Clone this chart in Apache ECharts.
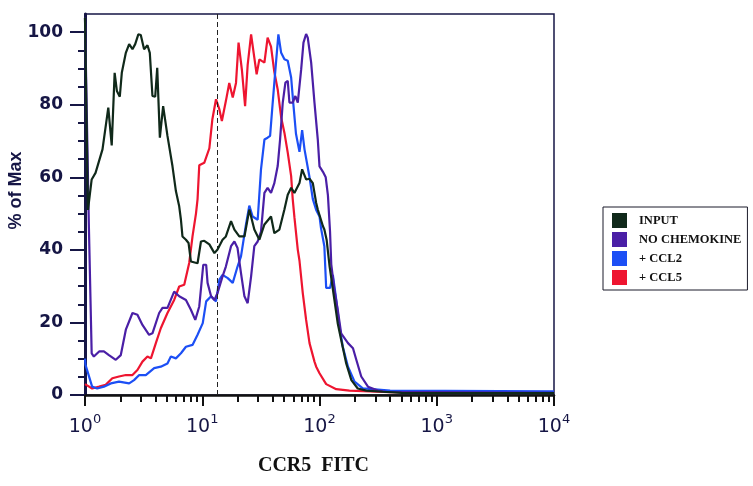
<!DOCTYPE html>
<html><head><meta charset="utf-8">
<script src="https://cdn.jsdelivr.net/npm/echarts@6/dist/echarts.min.js"></script>
<style>html,body{margin:0;padding:0;background:#fff}#c{width:753px;height:486px}</style>
</head><body><div id="c"></div>
<script>
// ---- data ----
const seriesNames = ['INPUT', 'NO CHEMOKINE', '+ CCL2', '+ CCL5'];

const inputX = [1, 1.02, 1.06, 1.08, 1.14, 1.23, 1.41, 1.58, 1.69, 1.79, 1.87, 1.98, 2.06, 2.23, 2.38, 2.54, 2.68, 2.85, 2.99, 3.19, 3.41, 3.57, 3.76, 3.97, 4.13, 4.35, 4.64, 5.05, 5.57, 5.96, 6.36, 6.58, 6.78, 7.26, 7.64, 8.0, 9.12, 9.75, 10.4, 11.5, 12.7, 13.5, 14.9, 15.9, 17.6, 18.8, 20.7, 22.9, 25.2, 27.8, 30.7, 33.9, 38.6, 41.2, 45.5, 50.2, 53.6, 57.3, 61.1, 67.5, 71.1, 76.9, 82.2, 87.7, 93.7, 96.7, 107, 110, 115, 122, 134, 143, 153, 169, 187, 212, 251, 345, 500, 10000];
const inputY = [104, 104, 51, 50.6, 59.4, 61.2, 67.7, 79.2, 68.8, 88.8, 83.8, 82.2, 88.8, 94.3, 96.7, 95.3, 96.7, 99.4, 99.2, 95.3, 96.4, 94.3, 82.4, 82.2, 90.2, 70.9, 79.6, 71.4, 63.1, 56.2, 52, 48.3, 43.7, 42.8, 41.9, 36.8, 36.3, 42.3, 42.5, 41.5, 39.1, 40.1, 42.8, 43.7, 47.9, 45.6, 43.7, 43.7, 51.1, 45.6, 42.8, 47, 49.2, 44.6, 45.6, 51.1, 55.2, 57.1, 55.7, 58.4, 62.2, 59.4, 59.6, 58.4, 52.9, 51.1, 46.5, 45.6, 42.8, 35.4, 26.2, 19.8, 15.2, 8.7, 4.1, 1.8, 1.2, 0.9, 0.6, 0.5];

const noChemX = [1, 1.08, 1.14, 1.19, 1.32, 1.45, 1.6, 1.83, 2.02, 2.23, 2.54, 2.8, 3.09, 3.52, 3.76, 4.29, 4.58, 5.05, 5.76, 6.36, 7.26, 8.0, 8.72, 9.43, 10.2, 10.8, 11.1, 11.9, 12.7, 13.5, 14.9, 15.9, 17.6, 18.8, 20.0, 21.4, 22.9, 24.4, 26.1, 27.8, 29.7, 31.7, 33.9, 36.1, 38.6, 41.2, 44.0, 46.1, 48.6, 51.2, 53.6, 55.4, 59.1, 62.3, 65.3, 69.8, 73.0, 76.9, 79.4, 84.9, 90.6, 96.7, 100, 107, 113, 118, 123, 126, 134, 143, 153, 175, 193, 206, 227, 259, 315, 372, 10000];
const noChemY = [104, 46, 11.5, 10.6, 12, 12, 11, 9.7, 11, 18, 22.6, 22.1, 19.3, 16.6, 17, 22.6, 24, 24, 28.5, 27.2, 26.2, 23.5, 20.7, 24.4, 35.9, 35.9, 30.9, 27.2, 26.2, 28.1, 32.7, 35.4, 41, 42.3, 40.5, 33.6, 27.2, 25.3, 32.7, 41, 42.3, 45, 55.7, 57.1, 55.7, 58.4, 63.1, 70.4, 80.6, 86.1, 86.6, 80.6, 80.6, 82.4, 80.6, 89.8, 97.1, 99.5, 98.5, 91.6, 80.6, 70.4, 63, 61.5, 60, 55, 45, 36, 29, 23.5, 17, 14.3, 12.9, 9.7, 5.1, 2.3, 1.2, 0.9, 0.6];

const ccl2X = [1, 1.01, 1.15, 1.27, 1.45, 1.66, 1.95, 2.38, 2.62, 2.9, 3.3, 3.89, 4.43, 5.05, 5.4, 5.96, 6.58, 7.26, 8.26, 9.12, 10.1, 10.8, 11.9, 13.1, 14.0, 14.9, 16.5, 18.2, 20.0, 21.4, 23.6, 25.2, 26.9, 29.7, 31.7, 33.9, 36.1, 37.9, 39.9, 42.1, 44.6, 47.1, 50.2, 53.6, 57.3, 59.9, 63, 67.5, 71.1, 74.5, 82.2, 87.7, 93.7, 100, 103, 110, 114, 123, 130, 139, 148, 158, 175, 199, 234, 400, 10000];
const ccl2Y = [10, 8.3, 2.3, 1.8, 2.3, 3.2, 3.7, 3.2, 4.1, 5.5, 5.5, 7.4, 7.8, 8.7, 10.6, 10.1, 11.5, 13.3, 13.8, 16.6, 19.8, 25.8, 27.2, 25.8, 31.8, 33.1, 32.2, 30.9, 35.4, 38.2, 47, 52.2, 49.2, 48.3, 62.2, 70.4, 70.9, 71.4, 80.6, 89.8, 99.4, 94.3, 92.5, 92.1, 87.5, 80, 72, 67, 73, 67.7, 60, 54, 51, 49.2, 46, 41, 29.5, 29.5, 33.1, 26.2, 18.9, 13.3, 7.8, 3.7, 1.8, 1.2, 1];

const ccl5X = [1, 1.15, 1.32, 1.5, 1.71, 1.95, 2.23, 2.54, 2.8, 3.09, 3.41, 3.65, 4.02, 4.43, 5.05, 5.76, 6.36, 7.02, 7.74, 8.26, 8.84, 9.12, 9.43, 10.4, 11.5, 12.2, 13.1, 14.0, 14.7, 15.9, 17.0, 18.2, 19.4, 20.4, 21.8, 23.2, 24.4, 26.1, 27.8, 29.1, 30.7, 32.4, 33.9, 36.1, 38.6, 41.2, 44.0, 47.1, 50.2, 53.6, 57.3, 59.1, 61.1, 65.3, 67.5, 72.0, 76.9, 82.2, 90.6, 93.7, 100, 114, 139, 180, 400, 10000];
const ccl5Y = [3, 1.8, 2.3, 2.8, 4.6, 5.1, 5.5, 5.5, 6.9, 9.2, 10.6, 10.1, 14.3, 18.4, 22.6, 26.2, 29.9, 30.4, 36.4, 43.7, 50, 54, 63.3, 64, 68, 76, 81.5, 78.7, 75.5, 81, 86, 82, 86, 97.1, 89.5, 79.6, 91, 99.4, 93, 88.4, 92.5, 92, 91.6, 98.5, 96, 89, 84.2, 76.5, 72.3, 66.8, 60.3, 54, 49, 40, 37, 28.1, 20.7, 14.3, 9.2, 7.8, 6, 3, 1.6, 1.2, 0.8, 0.6];

const gateX = 13.4;                       // dashed gate line position
const xMajorTicks = [1, 10, 100, 1000, 10000];
const xMinorTicks = [2,3,4,5,6,7,8,9, 20,30,40,50,60,70,80,90, 200,300,400,500,600,700,800,900, 2000,3000,4000,5000,6000,7000,8000,9000];
const yMajorTicks = [0, 20, 40, 60, 80, 100];
const yMinorTicks = [5,10,15,25,30,35,45,50,55,65,70,75,85,90,95];
const colors = ['#10291a', '#4a1fa6', '#1c4ff5', '#ee1530'];

// ---- chart ----
const zip = (xs, ys) => xs.map((x, i) => [x, ys[i]]);
const chart = echarts.init(document.getElementById('c'), null, {renderer: 'canvas'});
const navy = '#161645';

const lineSeries = (name, xs, ys, color, z) => ({
  name, type: 'line', data: zip(xs, ys), showSymbol: false, symbol: 'none',
  smooth: false, z, xAxisIndex: 0, yAxisIndex: 0,
  lineStyle: {color, width: 2.2}, itemStyle: {color}
});

const s = [
  lineSeries(seriesNames[3], ccl5X, ccl5Y, colors[3], 2),
  lineSeries(seriesNames[2], ccl2X, ccl2Y, colors[2], 3),
  lineSeries(seriesNames[1], noChemX, noChemY, colors[1], 4),
  lineSeries(seriesNames[0], inputX, inputY, colors[0], 5)
];
s[0].markLine = {
  silent: true, symbol: 'none', label: {show: false},
  lineStyle: {type: [5, 3], color: '#222', width: 1},
  data: [{xAxis: gateX}]
};

chart.setOption({
  backgroundColor: '#ffffff',
  animation: false,
  grid: {left: 85, right: 199, top: 14, bottom: 91, show: true, outerBoundsMode: 'none',
         containLabel: false,
         borderColor: navy, borderWidth: 1.5, backgroundColor: '#fff'},
  legend: {
    orient: 'vertical', left: 603, top: 207,
    data: seriesNames,
    icon: 'rect', itemWidth: 15, itemHeight: 15, itemGap: 4,
    padding: [6, 6, 5, 9],
    borderColor: '#1a1a2a', borderWidth: 1, backgroundColor: '#fff',
    textStyle: {fontFamily: 'Liberation Serif', fontWeight: 'bold', fontSize: 12.5,
                color: '#111', padding: [0, 0, 0, 7]},
    selectedMode: false
  },
  xAxis: [{
    type: 'log', logBase: 10, min: 1, max: 10000, position: 'bottom',
    name: 'CCR5  FITC', nameLocation: 'middle', nameGap: 61, nameMoveOverlap: false,
    nameTextStyle: {fontFamily: 'Liberation Serif', fontWeight: 'bold', fontSize: 20, color: '#111',
                    padding: [0, 12, 0, 0]},
    axisLine: {show: true, onZero: false, lineStyle: {color: '#111', width: 2.5}},
    axisTick: {show: true, inside: false, length: 11, customValues: xMajorTicks,
               lineStyle: {color: '#111', width: 2}},
    splitLine: {show: false},
    axisLabel: {
      margin: 18, customValues: xMajorTicks,
      formatter: v => '{b|10}{s|' + Math.round(Math.log10(v)) + '}',
      rich: {
        b: {fontFamily: 'DejaVu Sans', fontSize: 19, color: navy, lineHeight: 24, verticalAlign: 'bottom'},
        s: {fontFamily: 'DejaVu Sans', fontSize: 13, color: navy, lineHeight: 24, verticalAlign: 'top'}
      }
    }
  }, {
    type: 'log', logBase: 10, min: 1, max: 10000, position: 'bottom',
    axisLine: {show: false, onZero: false},
    axisTick: {show: true, inside: false, length: 7, customValues: xMinorTicks,
               lineStyle: {color: '#111', width: 2}},
    axisLabel: {show: false}, splitLine: {show: false}
  }],
  yAxis: [{
    type: 'value', min: 0, max: 105, position: 'left',
    name: '% of Max', nameLocation: 'middle', nameGap: 60, nameMoveOverlap: false,
    nameTextStyle: {fontFamily: 'Liberation Sans', fontWeight: 'bold', fontSize: 18, color: navy,
                    padding: [0, 0, 0, 28]},
    axisLine: {show: true, onZero: false, lineStyle: {color: navy, width: 3}},
    axisTick: {show: true, inside: false, length: 15, customValues: yMajorTicks,
               lineStyle: {color: navy, width: 2}},
    splitLine: {show: false},
    axisLabel: {margin: 22, customValues: yMajorTicks, fontFamily: 'DejaVu Sans',
                fontWeight: 'bold', fontSize: 17, color: navy}
  }, {
    type: 'value', min: 0, max: 105, position: 'left',
    axisLine: {show: false, onZero: false},
    axisTick: {show: true, inside: false, length: 7, customValues: yMinorTicks,
               lineStyle: {color: navy, width: 2}},
    axisLabel: {show: false}, splitLine: {show: false}
  }],
  series: s
});
</script></body></html>
